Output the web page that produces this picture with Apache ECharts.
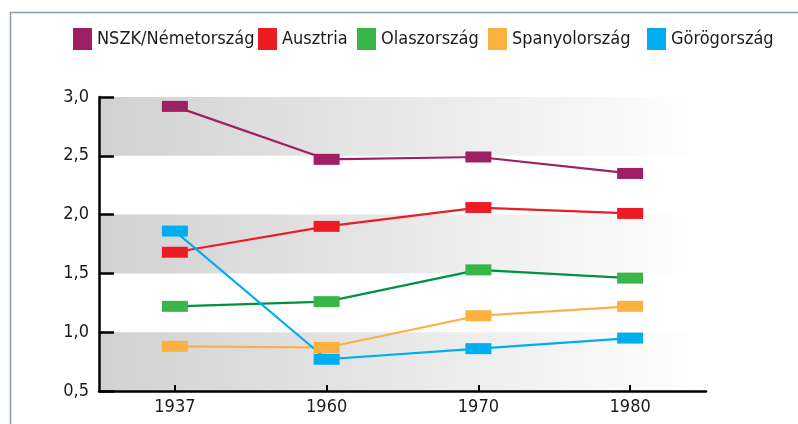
<!DOCTYPE html>
<html>
<head>
<meta charset="utf-8">
<script src="https://cdn.jsdelivr.net/npm/echarts@6/dist/echarts.min.js"></script>
<style>
  html, body { margin: 0; padding: 0; background: #ffffff; }
  #chart { width: 798px; height: 424px; }
</style>
</head>
<body>
<div id="chart"></div>
<script>
// Years on the horizontal axis
const years = ['1937', '1960', '1970', '1980'];

// One array of values per country
const nszk = [2.92, 2.47, 2.49, 2.35];
const ausztria = [1.68, 1.90, 2.06, 2.01];
const olaszorszag = [1.22, 1.26, 1.53, 1.46];
const spanyolorszag = [0.88, 0.87, 1.14, 1.22];
const gorogorszag = [1.86, 0.77, 0.86, 0.95];

const seriesNames = ['NSZK/Németország', 'Ausztria', 'Olaszország', 'Spanyolország', 'Görögország'];
const seriesValues = [nszk, ausztria, olaszorszag, spanyolorszag, gorogorszag];

const markerColors = ['#9e1f63', '#ed1c24', '#39b54a', '#fbb040', '#00aeef'];
const lineColors = ['#9e1f63', '#ed1c24', '#00923f', '#fbb040', '#00aeef'];
const legendLeft = [73, 258, 357, 488, 647];

const FONT = "'DejaVu Sans Condensed', 'Liberation Sans Narrow', Roboto, sans-serif";
const TEXT = '#1b1b1b';

const bandFill = new echarts.graphic.LinearGradient(0, 0, 1, 0, [
  { offset: 0, color: '#d2d1d1' },
  { offset: 1, color: '#ffffff' }
]);

const chart = echarts.init(document.getElementById('chart'), null, { renderer: 'canvas' });

// Rectangular markers, drawn above every line
const markerSeries = seriesNames.map((name, i) => ({
  name: name,
  type: 'scatter',
  z: 4,
  data: seriesValues[i],
  symbol: 'rect',
  symbolSize: [26, 11],
  itemStyle: { color: markerColors[i], opacity: 1 },
  emphasis: { disabled: true },
  silent: true
}));

// Connecting lines
const lineSeries = seriesNames.map((name, i) => ({
  name: name,
  type: 'line',
  z: 2,
  data: seriesValues[i],
  showSymbol: false,
  symbol: 'none',
  itemStyle: { color: markerColors[i] },
  lineStyle: { color: lineColors[i], width: 2.2 },
  emphasis: { disabled: true },
  silent: true
}));

const legends = seriesNames.map((name, i) => ({
  data: [name],
  left: legendLeft[i],
  top: 28,
  padding: 0,
  icon: 'rect',
  itemWidth: 19,
  itemHeight: 22,
  itemGap: 0,
  selectedMode: false,
  textStyle: { fontFamily: FONT, fontSize: 18, color: TEXT }
}));

chart.setOption({
  backgroundColor: '#ffffff',
  animation: false,
  legend: legends,
  grid: { left: 99, right: 92, top: 97, bottom: 33, containLabel: false },
  xAxis: {
    type: 'category',
    data: years,
    boundaryGap: true,
    axisLine: { show: true, lineStyle: { color: '#000000', width: 2.5 } },
    axisTick: { show: true, inside: true, alignWithLabel: true, length: 6, lineStyle: { color: '#000000', width: 2 } },
    axisLabel: { fontFamily: FONT, fontSize: 18, color: TEXT, margin: 7 },
    splitLine: { show: false }
  },
  yAxis: {
    type: 'value',
    min: 0.5,
    max: 3.0,
    interval: 0.5,
    axisLine: { show: true, lineStyle: { color: '#000000', width: 2.5 } },
    axisTick: { show: true, inside: true, length: 15, lineStyle: { color: '#000000', width: 2.5 } },
    axisLabel: {
      fontFamily: FONT, fontSize: 18, color: TEXT, margin: 10,
      formatter: v => v.toFixed(1).replace('.', ',')
    },
    splitLine: { show: false },
    splitArea: { show: true, areaStyle: { color: [bandFill, 'rgba(255,255,255,0)'] } }
  },
  graphic: [
    {
      type: 'polyline',
      silent: true,
      shape: { points: [[10.5, 424], [10.5, 12.5], [798, 12.5]] },
      style: { stroke: '#8d9ca7', lineWidth: 1.5, fill: null }
    }
  ],
  series: markerSeries.concat(lineSeries)
});
</script>
</body>
</html>
